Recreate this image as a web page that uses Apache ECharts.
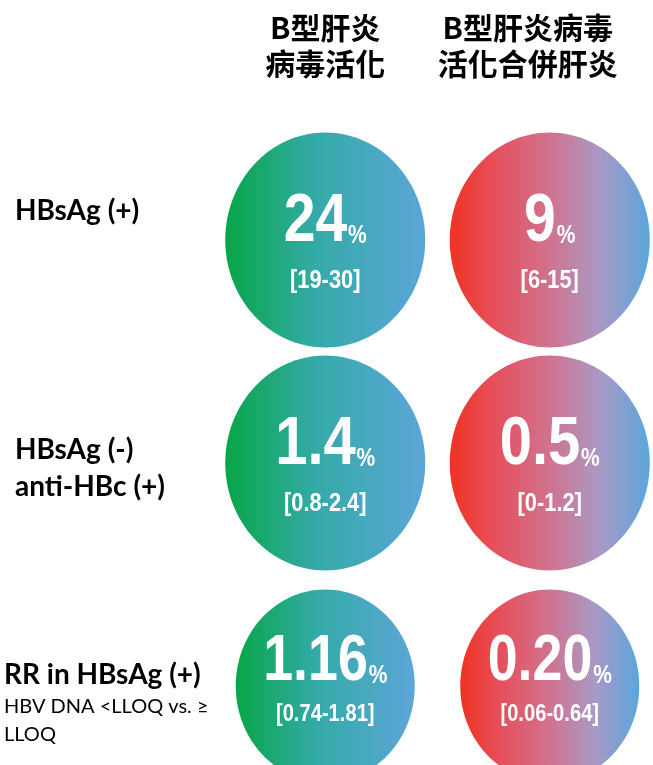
<!DOCTYPE html>
<html>
<head>
<meta charset="utf-8">
<script src="https://cdn.jsdelivr.net/npm/echarts@6/dist/echarts.min.js"></script>
<style>
  html, body { margin: 0; padding: 0; background: #fff; }
  #main { width: 653px; height: 765px; }
</style>
</head>
<body>
<div id="main"></div>
<script>
// 欄位 (columns) 與列 (rows)
const columns = ['B型肝炎\n病毒活化', 'B型肝炎病毒\n活化合併肝炎'];
const rowTitles = ['HBsAg (+)', 'HBsAg (-)', 'RR in HBsAg (+)'];
const rowSubs = ['', 'anti-HBc (+)', 'HBV DNA <LLOQ vs. ≥\nLLOQ'];

// B型肝炎病毒活化
const reactValues = ['24', '1.4', '1.16'];
const reactCI = ['19-30', '0.8-2.4', '0.74-1.81'];
// B型肝炎病毒活化合併肝炎
const hepValues = ['9', '0.5', '0.20'];
const hepCI = ['6-15', '0-1.2', '0.06-0.64'];

const allValues = [reactValues, hepValues];
const allCI = [reactCI, hepCI];

// 樣式: 每列的橢圓大小與文字位置
const rowSize = [[200, 215], [200, 215], [179, 193]];
const rowNumY = [-18, -18, -24];
const rowCiY = [41, 41, 28];
const rowNumFont = [68, 69, 64];
const rowCiFont = [26, 26, 24];

const sans = "'Liberation Sans', Arial, sans-serif";

const fills = [
  new echarts.graphic.LinearGradient(0, 0, 1, 0, [
    { offset: 0, color: '#07a647' },
    { offset: 0.45, color: '#34aaa8' },
    { offset: 1, color: '#5ca6d8' }
  ]),
  new echarts.graphic.LinearGradient(0, 0, 1, 0, [
    { offset: 0, color: '#ee3322' },
    { offset: 0.2, color: '#e84c57' },
    { offset: 0.5, color: '#d0738f' },
    { offset: 0.75, color: '#a999c5' },
    { offset: 1, color: '#5aa6dc' }
  ])
];

function rows(col, values) {
  return values.map(function (v, i) { return [col, i]; });
}

function renderBubble(params, api) {
  const col = api.value(0);
  const i = api.value(1);
  const p = api.coord([col, i]);
  const size = rowSize[i];
  const numText = allValues[col][i];
  const ciText = allCI[col][i];
  return {
    type: 'group',
    children: [
      {
        type: 'ellipse',
        shape: { cx: p[0], cy: p[1], rx: size[0] / 2, ry: size[1] / 2 },
        style: { fill: fills[col] }
      },
      {
        type: 'text',
        x: p[0], y: p[1] + rowNumY[i],
        scaleX: 0.84,
        style: {
          text: '{n|' + numText + '}{p|%}',
          align: 'center',
          verticalAlign: 'middle',
          fill: '#fff',
          rich: {
            n: { fontFamily: sans, fontWeight: 'bold', fontSize: rowNumFont[i], fill: '#fff', lineHeight: 76 },
            p: { fontFamily: sans, fontWeight: 'bold', fontSize: 25, fill: '#fff', verticalAlign: 'bottom', lineHeight: 25, padding: [0, 0, 11, 1] }
          }
        }
      },
      {
        type: 'text',
        x: p[0], y: p[1] + rowCiY[i],
        scaleX: 0.84,
        style: {
          text: '[' + ciText + ']',
          align: 'center',
          verticalAlign: 'middle',
          fill: '#fff',
          fontFamily: sans,
          fontWeight: 'bold',
          fontSize: rowCiFont[i]
        }
      }
    ]
  };
}

let myChart = echarts.init(document.getElementById('main'));
let option = {
  animation: false,
  backgroundColor: '#fff',
  grid: { left: 213, width: 449, top: 128.5, height: 669, containLabel: false, outerBoundsMode: 'none' },
  xAxis: {
    type: 'category',
    position: 'top',
    data: [
      { value: columns[0] },
      { value: columns[1], textStyle: { padding: [0, 44, 0, 0] } }
    ],
    axisLine: { show: false },
    axisTick: { show: false },
    splitLine: { show: false },
    axisLabel: {
      interval: 0,
      margin: 47,
      color: '#000',
      fontSize: 30,
      fontWeight: 'bold',
      lineHeight: 36,
      fontFamily: "'Noto Sans CJK TC', 'Noto Sans CJK SC', sans-serif"
    }
  },
  yAxis: {
    type: 'category',
    inverse: true,
    data: rowTitles,
    axisLine: { show: false },
    axisTick: { show: false },
    splitLine: { show: false },
    axisLabel: {
      interval: 0,
      margin: 209,
      align: 'left',
      formatter: function (v, i) {
        if (i === 0) return '{t1|' + v + '}\n{gap0|}';
        if (i === 1) return '{gap1|}\n{t1|' + v + '}\n{t1|' + rowSubs[i] + '}';
        return '{gap2|}\n{t|' + v + '}\n{s|' + rowSubs[i].split('\n').join('}\n{s|') + '}';
      },
      rich: {
        t: { fontFamily: 'Lato, sans-serif', fontWeight: 'bold', fontSize: 28, color: '#000', lineHeight: 36 },
        t1: { fontFamily: 'Lato, sans-serif', fontWeight: 'bold', fontSize: 28, color: '#000', lineHeight: 37, padding: [0, 0, 0, 11] },
        s: { fontFamily: 'Lato, sans-serif', fontSize: 20, color: '#000', lineHeight: 28 },
        gap0: { lineHeight: 58, fontSize: 1 },
        gap1: { lineHeight: 11, fontSize: 1 },
        gap2: { lineHeight: 34, fontSize: 1 }
      }
    }
  },
  series: [
    {
      type: 'custom',
      renderItem: renderBubble,
      data: rows(0, reactValues),
      clip: false
    },
    {
      type: 'custom',
      renderItem: renderBubble,
      data: rows(1, hepValues),
      clip: false
    }
  ]
};
myChart.setOption(option, true);
window.onresize = function () { myChart.resize(); };
</script>
</body>
</html>
